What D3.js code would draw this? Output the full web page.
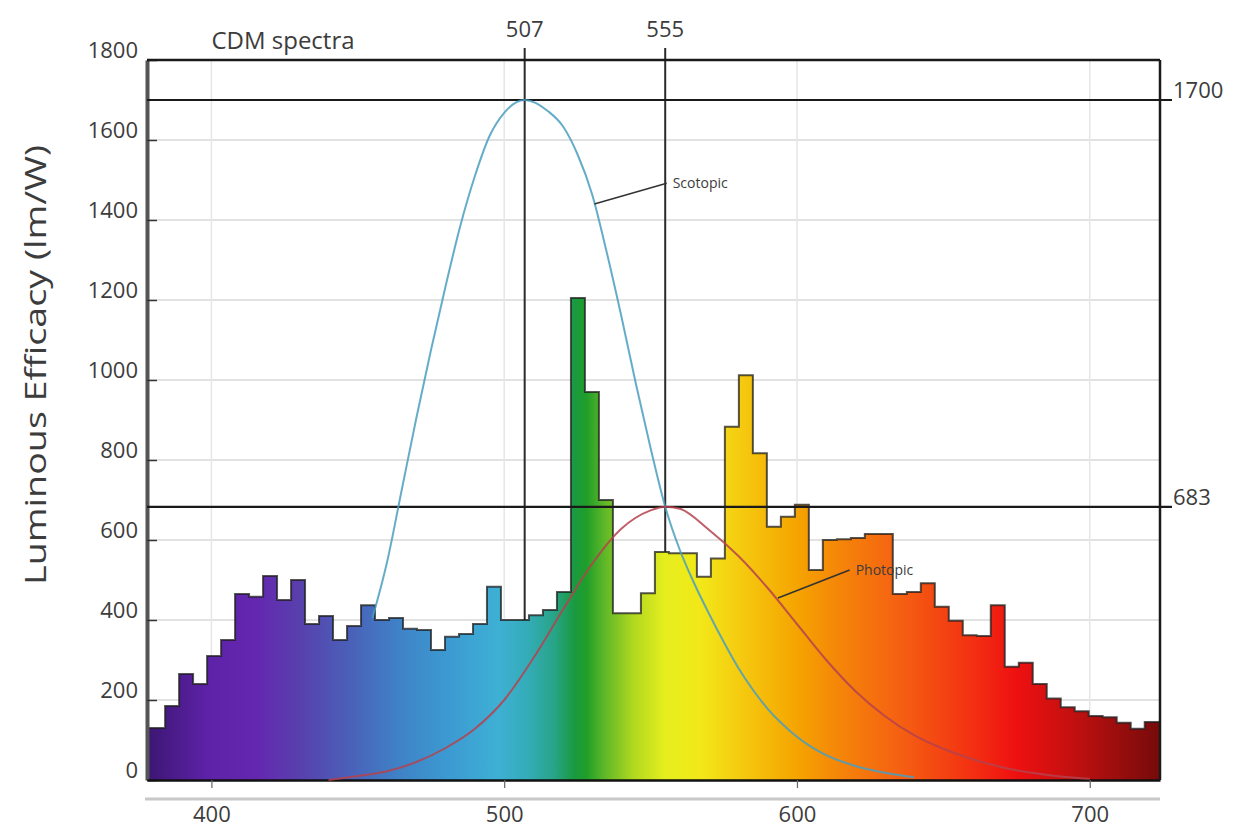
<!DOCTYPE html>
<html>
<head>
<meta charset="utf-8">
<script src="https://cdn.jsdelivr.net/npm/d3@7"></script>
<style>
  body { margin: 0; background: #fff; }
  text { font-family: "Open Sans", sans-serif; fill: #3c3c3c; }
</style>
</head>
<body>
<svg id="chart" width="1236" height="835"></svg>
<script>
// CDM lamp spectrum, step bins (nm) and heights (lm/W)
var binStart = 379.4
var binWidth = 4.78
var spectrum = [130, 185, 265, 240, 310, 350, 465, 458, 510, 450,
  500, 390, 410, 350, 385, 437, 400, 405, 378, 375,
  325, 358, 365, 390, 483, 400, 400, 412, 425, 470,
  1205, 970, 700, 417, 417, 467, 570, 567, 567, 508,
  554, 883, 1012, 817, 633, 658, 688, 525, 600, 602,
  605, 615, 615, 465, 470, 492, 433, 398, 362, 360,
  437, 283, 293, 240, 204, 182, 172, 160, 157, 143,
  128, 145]

// scotopic curve (peak 1700 at 507 nm)
var scotopicWl = [455, 460, 465, 470, 475, 480, 485, 490, 495, 500, 507, 515, 520, 525, 530, 535, 540,
  545, 550, 555, 560, 565, 570, 575, 580, 585, 590, 595, 600, 605, 610, 620, 630, 640]
var scotopicVal = [405, 545, 725, 905, 1075, 1235, 1385, 1510, 1610, 1668, 1700, 1672, 1635, 1565, 1465, 1320, 1160,
  990, 830, 683, 575, 490, 415, 345, 280, 225, 178, 140, 108, 82, 62, 35, 18, 7]

// photopic curve (peak 683 at 555 nm)
var photopicWl = [440, 450, 460, 470, 480, 490, 500, 510, 520, 530, 540, 550, 555, 560, 570, 580, 590,
  600, 610, 620, 630, 640, 650, 660, 670, 680, 690, 700]
var photopicVal = [0, 10, 22, 45, 80, 128, 200, 305, 425, 540, 628, 674, 683, 678, 625, 560, 480,
  390, 300, 222, 160, 112, 78, 52, 32, 18, 9, 3]

var refWl = [507, 555]
var refLevel = [1700, 683]
var xTicks = [400, 500, 600, 700]
var yTicks = [0, 200, 400, 600, 800, 1000, 1200, 1400, 1600, 1800]

// spectrum colours along the wavelength axis
var spectrumColors = [
  [378, "#3c1672"], [399, "#5e22a8"], [416, "#6428b0"], [430, "#5840ac"],
  [447, "#4a60b8"], [464, "#3f82c6"], [481, "#3c9ad2"], [498, "#3eb0d4"],
  [508, "#34acb8"], [517, "#28a488"], [524, "#1a9a40"], [528, "#1f9e2a"],
  [534, "#5cb628"], [544, "#b0d820"], [555, "#e6ee1e"], [567, "#f2e818"],
  [578, "#f5d012"], [590, "#f5b808"], [601, "#f5a200"], [612, "#f58a08"],
  [635, "#f56012"], [658, "#f33412"], [675, "#ee1010"], [692, "#c81010"],
  [709, "#9c0e0e"], [724, "#760a0a"]]

var svg = d3.select("#chart")

var x = d3.scaleLinear().domain([378, 724]).range([147, 1160])
var y = d3.scaleLinear().domain([0, 1800]).range([780, 60])

var grad = svg.append("defs").append("linearGradient")
    .attr("id", "spec")
    .attr("gradientUnits", "userSpaceOnUse")
    .attr("x1", x(378)).attr("x2", x(724))
    .attr("y1", 0).attr("y2", 0)

grad.selectAll("stop")
    .data(spectrumColors)
    .enter()
    .append("stop")
    .attr("offset", function(d) { return (x(d[0]) - x(378)) / (x(724) - x(378)) })
    .attr("stop-color", function(d) { return d[1] })

// grid
svg.append("g").selectAll("line")
    .data(yTicks.slice(1, -1))
    .enter()
    .append("line")
    .attr("x1", x(378)).attr("x2", x(724))
    .attr("y1", function(d) { return y(d) })
    .attr("y2", function(d) { return y(d) })
    .attr("stroke", "#e2e2e2")
    .attr("stroke-width", 2)

svg.append("g").selectAll("line")
    .data(xTicks)
    .enter()
    .append("line")
    .attr("x1", function(d) { return x(d) })
    .attr("x2", function(d) { return x(d) })
    .attr("y1", y(1800)).attr("y2", y(0))
    .attr("stroke", "#e6e6e6")
    .attr("stroke-width", 1.5)

// vertical reference lines sit behind the spectrum
svg.append("g").selectAll("line")
    .data(refWl)
    .enter()
    .append("line")
    .attr("x1", function(d) { return x(d) })
    .attr("x2", function(d) { return x(d) })
    .attr("y1", 48).attr("y2", y(0))
    .attr("stroke", "#2a2a2a")
    .attr("stroke-width", 2)

svg.append("g").selectAll("text")
    .data(refWl)
    .enter()
    .append("text")
    .attr("x", function(d) { return x(d) })
    .attr("y", 37)
    .attr("text-anchor", "middle")
    .style("font-size", "22px")
    .text(function(d) { return d })

// spectrum histogram
var bins = spectrum.map(function(v, i) {
    return { wl: binStart + i * binWidth, v: v }
})
bins.unshift({ wl: 378, v: spectrum[0] })
bins.push({ wl: 724, v: spectrum[spectrum.length - 1] })

var area = d3.area()
    .curve(d3.curveStepAfter)
    .x(function(d) { return x(d.wl) })
    .y0(y(0))
    .y1(function(d) { return y(d.v) })

var topLine = d3.line()
    .curve(d3.curveStepAfter)
    .x(function(d) { return x(d.wl) })
    .y(function(d) { return y(d.v) })

svg.append("path")
    .datum(bins)
    .attr("d", area)
    .attr("fill", "url(#spec)")

svg.append("path")
    .datum(bins)
    .attr("d", topLine)
    .attr("fill", "none")
    .attr("stroke", "#1e1e1e")
    .attr("stroke-opacity", 0.75)
    .attr("stroke-width", 2)

// axes
var yAxis = d3.axisLeft(y)
    .tickValues(yTicks)
    .tickFormat(d3.format("d"))
    .tickSizeInner(-10)
    .tickSizeOuter(0)
    .tickPadding(9)

var gy = svg.append("g")
    .attr("transform", "translate(" + x(378) + ",0)")
    .call(yAxis)
gy.select(".domain").attr("stroke", "#555").attr("stroke-width", 4)
gy.selectAll(".tick line").attr("stroke", "#333").attr("stroke-width", 1.5)
gy.selectAll(".tick text")
    .attr("dy", "-0.12em")
    .style("font-size", "22px")
    .style("font-family", "'Open Sans', sans-serif")
    .attr("fill", "#3c3c3c")

var xAxis = d3.axisBottom(x)
    .tickValues(xTicks)
    .tickSizeInner(8)
    .tickSizeOuter(0)
    .tickPadding(18)

var gx = svg.append("g")
    .attr("transform", "translate(0," + y(0) + ")")
    .call(xAxis)
gx.select(".domain").attr("stroke", "#111").attr("stroke-width", 2.5)
gx.selectAll(".tick line").attr("stroke", "#666").attr("stroke-width", 1.2)
gx.selectAll(".tick text")
    .style("font-size", "22px")
    .style("font-family", "'Open Sans', sans-serif")
    .attr("fill", "#3c3c3c")

svg.append("line")
    .attr("x1", x(378) - 2).attr("x2", x(724))
    .attr("y1", y(0) + 19).attr("y2", y(0) + 19)
    .attr("stroke", "#c8c8c8")
    .attr("stroke-width", 3)

// frame: top and right
svg.append("line")
    .attr("x1", x(378)).attr("x2", x(724))
    .attr("y1", y(1800)).attr("y2", y(1800))
    .attr("stroke", "#1a1a1a").attr("stroke-width", 2.5)
svg.append("line")
    .attr("x1", x(724)).attr("x2", x(724))
    .attr("y1", y(1800)).attr("y2", y(0))
    .attr("stroke", "#1a1a1a").attr("stroke-width", 2.5)

// horizontal reference lines on top
svg.append("g").selectAll("line")
    .data(refLevel)
    .enter()
    .append("line")
    .attr("x1", x(378)).attr("x2", x(724) + 12)
    .attr("y1", function(d) { return y(d) })
    .attr("y2", function(d) { return y(d) })
    .attr("stroke", "#1a1a1a")
    .attr("stroke-width", 2.2)

svg.append("g").selectAll("text")
    .data(refLevel)
    .enter()
    .append("text")
    .attr("x", x(724) + 13)
    .attr("y", function(d) { return y(d) - 2 })
    .style("font-size", "22px")
    .text(function(d) { return d })

// sensitivity curves
var curve = d3.line()
    .curve(d3.curveMonotoneX)
    .x(function(d) { return x(d[0]) })
    .y(function(d) { return y(d[1]) })

svg.append("path")
    .datum(d3.zip(scotopicWl, scotopicVal))
    .attr("d", curve)
    .attr("fill", "none")
    .attr("stroke", "#4a9ec0")
    .attr("stroke-opacity", 0.85)
    .attr("stroke-width", 2)

svg.append("path")
    .datum(d3.zip(photopicWl, photopicVal))
    .attr("d", curve)
    .attr("fill", "none")
    .attr("stroke", "#b5424e")
    .attr("stroke-opacity", 0.85)
    .attr("stroke-width", 2)

// curve labels
var notes = [
    { name: "Scotopic", from: [530.8, 1440], to: [555.5, 1492] },
    { name: "Photopic", from: [593.5, 455], to: [618, 525] }
]

var note = svg.append("g").selectAll("g")
    .data(notes)
    .enter()
    .append("g")

note.append("line")
    .attr("x1", function(d) { return x(d.from[0]) })
    .attr("y1", function(d) { return y(d.from[1]) })
    .attr("x2", function(d) { return x(d.to[0]) })
    .attr("y2", function(d) { return y(d.to[1]) })
    .attr("stroke", "#333")
    .attr("stroke-width", 1.5)

note.append("text")
    .attr("x", function(d) { return x(d.to[0]) + 6 })
    .attr("y", function(d) { return y(d.to[1]) + 5 })
    .style("font-size", "14px")
    .text(function(d) { return d.name })

// titles
svg.append("text")
    .attr("x", x(400))
    .attr("y", 49)
    .style("font-size", "24px")
    .text("CDM spectra")

svg.append("text")
    .attr("transform", "translate(46,365) rotate(-90)")
    .attr("text-anchor", "middle")
    .attr("textLength", 440)
    .attr("lengthAdjust", "spacingAndGlyphs")
    .style("font-size", "29px")
    .attr("fill", "#555")
    .text("Luminous Efficacy (lm/W)")
</script>
</body>
</html>
